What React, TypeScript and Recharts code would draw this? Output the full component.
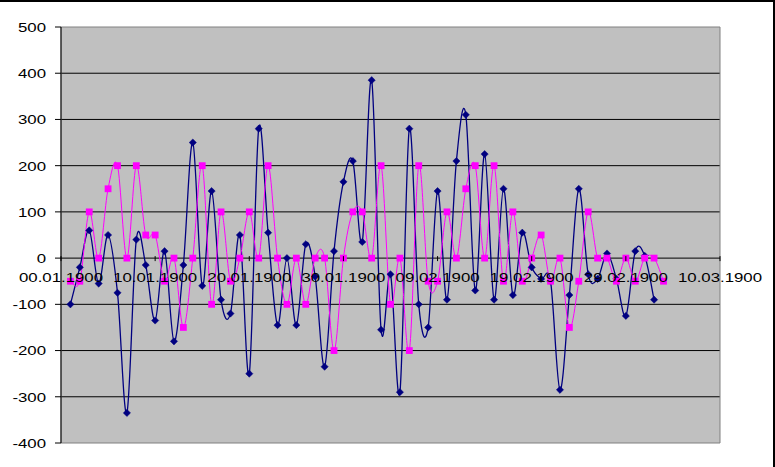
import React from 'react';
import { ComposedChart, Line, XAxis, YAxis, CartesianGrid, ReferenceLine, ReferenceArea } from 'recharts';

// Day numbers (days since 00.01.1900)
const DAYS = [
  1, 2, 3, 4, 5, 6, 7, 8, 9, 10, 11, 12, 13, 14, 15, 16, 17, 18, 19, 20,
  21, 22, 23, 24, 25, 26, 27, 28, 29, 30, 31, 32, 33, 34, 35, 36, 37, 38, 39, 40,
  41, 42, 43, 44, 45, 46, 47, 48, 49, 50, 51, 52, 53, 54, 55, 56, 57, 58, 59, 60,
  61, 62, 63, 64,
];

const NAVY = [
  -100, -20, 60, -55, 50, -75, -335, 40, -15, -135, 15, -180, -15, 250, -60, 145, -90, -120,
  50, -250, 280, 55, -145, 0, -145, 30, -40, -235, 15, 165, 210, 35, 385, -155, -35, -290,
  280, -100, -150, 145, -90, 210, 310, -70, 225, -90, 150, -80, 55, -20, -45, -50, -285,
  -80, 150, -35, -45, 10, -45, -125, 15, 5, -90,
];

const MAGENTA = [
  -50, -50, 100, 0, 150, 200, 0, 200, 50, 50, -50, 0, -150, 0, 200, -100, 100, -50,
  0, 100, 0, 200, 0, -100, 0, -100, 0, 0, -200, 0, 100, 100, 0, 200, -100, 0,
  -200, 200, -50, -50, 100, 0, 150, 200, 0, 200, -50, 100, -50, 0, 50, -50, 0,
  -150, -50, 100, 0, 0, -50, 0, -50, 0, 0, -50,
];

const X_TICKS = [0, 10, 20, 30, 40, 50, 60, 70];
const X_TICK_LABELS = [
  '00.01.1900', '10.01.1900', '20.01.1900', '30.01.1900',
  '09.02.1900', '19.02.1900', '29.02.1900', '10.03.1900',
];
const Y_TICKS = [-400, -300, -200, -100, 0, 100, 200, 300, 400, 500];
const GRID_VALUES = [-300, -200, -100, 100, 200, 300, 400];

const Y_MIN = -400;
const Y_MAX = 500;
const W = 775;
const H = 467;
const X_AXIS_H = 2;
const MARGIN = { top: 27, right: 55, left: 0, bottom: 24 - X_AXIS_H };
const Y_AXIS_W = 61;
const PLOT_H = H - MARGIN.top - MARGIN.bottom - X_AXIS_H;
const ZERO_FROM_BOTTOM = (PLOT_H * (0 - Y_MIN)) / (Y_MAX - Y_MIN);

const data = DAYS.map((d, i) => ({
  day: d,
  navy: i < NAVY.length ? NAVY[i] : null,
  magenta: i < MAGENTA.length ? MAGENTA[i] : null,
}));

const FONT = '"Liberation Sans", Arial, sans-serif';

// Excel-like smoothing (Catmull-Rom through the points)
function excelCurve(context: any) {
  let pts: number[][] = [];
  return {
    areaStart() {},
    areaEnd() {},
    lineStart() {
      pts = [];
    },
    lineEnd() {
      if (!pts.length) return;
      context.moveTo(pts[0][0], pts[0][1]);
      for (let i = 0; i < pts.length - 1; i++) {
        const p0 = pts[i - 1] || pts[i];
        const p1 = pts[i];
        const p2 = pts[i + 1];
        const p3 = pts[i + 2] || p2;
        context.bezierCurveTo(
          p1[0] + (p2[0] - p0[0]) / 6,
          p1[1] + (p2[1] - p0[1]) / 6,
          p2[0] - (p3[0] - p1[0]) / 6,
          p2[1] - (p3[1] - p1[1]) / 6,
          p2[0],
          p2[1]
        );
      }
    },
    point(x: number, y: number) {
      pts.push([+x, +y]);
    },
  };
}

const DiamondDot = (props: any) => {
  const { cx, cy, index } = props;
  if (cx == null || cy == null || props.value == null) return <g key={`d${index}`} />;
  const r = 3.6;
  return (
    <polygon
      key={`d${index}`}
      points={`${cx},${cy - r} ${cx + r},${cy} ${cx},${cy + r} ${cx - r},${cy}`}
      fill="#000080"
      stroke="#000080"
      strokeWidth={0.5}
    />
  );
};

const SquareDot = (props: any) => {
  const { cx, cy, index } = props;
  if (cx == null || cy == null || props.value == null) return <g key={`s${index}`} />;
  const s = 3.4;
  return <rect key={`s${index}`} x={cx - s} y={cy - s} width={2 * s} height={2 * s} fill="#FF00FF" />;
};

const YTick = (props: any) => {
  const { x, y, payload } = props;
  return (
    <g transform={`translate(${x},${y}) scale(1.05,0.85)`}>
      <text x={0} y={0} dy="0.36em" textAnchor="end" fill="#000" fontFamily={FONT} fontSize={16}>
        {payload.value}
      </text>
    </g>
  );
};

const XTick = (props: any) => {
  const { x, y, payload } = props;
  const xx = Number(x);
  const zeroY = Number(y) - X_AXIS_H - ZERO_FROM_BOTTOM;
  const idx = X_TICKS.indexOf(Number(payload.value));
  const label = idx >= 0 ? X_TICK_LABELS[idx] : String(payload.value);
  return (
    <g>
      <line x1={xx} y1={zeroY} x2={xx} y2={zeroY + 5} stroke="#000" strokeWidth={1} />
      <g transform={`translate(${xx},${zeroY + 26}) scale(1.05,0.85)`}>
        <text x={0} y={0} textAnchor="middle" fill="#000" fontFamily={FONT} fontSize={16}>
          {label}
        </text>
      </g>
    </g>
  );
};

export default function App() {
  return (
    <div style={{ position: 'fixed', left: 0, top: 0, width: W, height: H, background: '#fff' }}>
      <div
        style={{
          position: 'absolute',
          left: 0,
          top: 0,
          width: W,
          height: H,
          boxSizing: 'border-box',
          borderTop: '2px solid #000',
          borderRight: '2px solid #000',
          pointerEvents: 'none',
          zIndex: 2,
        }}
      />
      <ComposedChart width={W} height={H} data={data} margin={MARGIN}>
        <CartesianGrid
          vertical={false}
          horizontalValues={GRID_VALUES}
          stroke="#000"
          strokeOpacity={1}
          fill="#C0C0C0"
          fillOpacity={1}
        />
        <ReferenceArea x1={0} x2={70} y1={Y_MIN} y2={Y_MAX} fill="none" stroke="#808080" strokeWidth={1} ifOverflow="visible" />
        <XAxis
          type="number"
          dataKey="day"
          domain={[0, 70]}
          ticks={X_TICKS}
          interval={0}
          height={X_AXIS_H}
          axisLine={false}
          tickLine={false}
          tickSize={0}
          tickMargin={0}
          tick={(p: any) => <XTick key={`xt${p.index}`} {...p} />}
          allowDataOverflow
        />
        <YAxis
          type="number"
          domain={[Y_MIN, Y_MAX]}
          ticks={Y_TICKS}
          interval={0}
          width={Y_AXIS_W}
          axisLine={{ stroke: '#000', strokeWidth: 1 }}
          tickLine={{ stroke: '#000', strokeWidth: 1 }}
          tickSize={6}
          tickMargin={9}
          tick={<YTick />}
          allowDataOverflow
        />
        <ReferenceLine y={0} stroke="#000" strokeWidth={1} />
        <Line
          dataKey="navy"
          type={excelCurve as any}
          stroke="#000080"
          strokeWidth={1.3}
          dot={DiamondDot}
          activeDot={false}
          isAnimationActive={false}
        />
        <Line
          dataKey="magenta"
          type={excelCurve as any}
          stroke="#FF00FF"
          strokeWidth={1}
          dot={SquareDot}
          activeDot={false}
          isAnimationActive={false}
        />
      </ComposedChart>
    </div>
  );
}
